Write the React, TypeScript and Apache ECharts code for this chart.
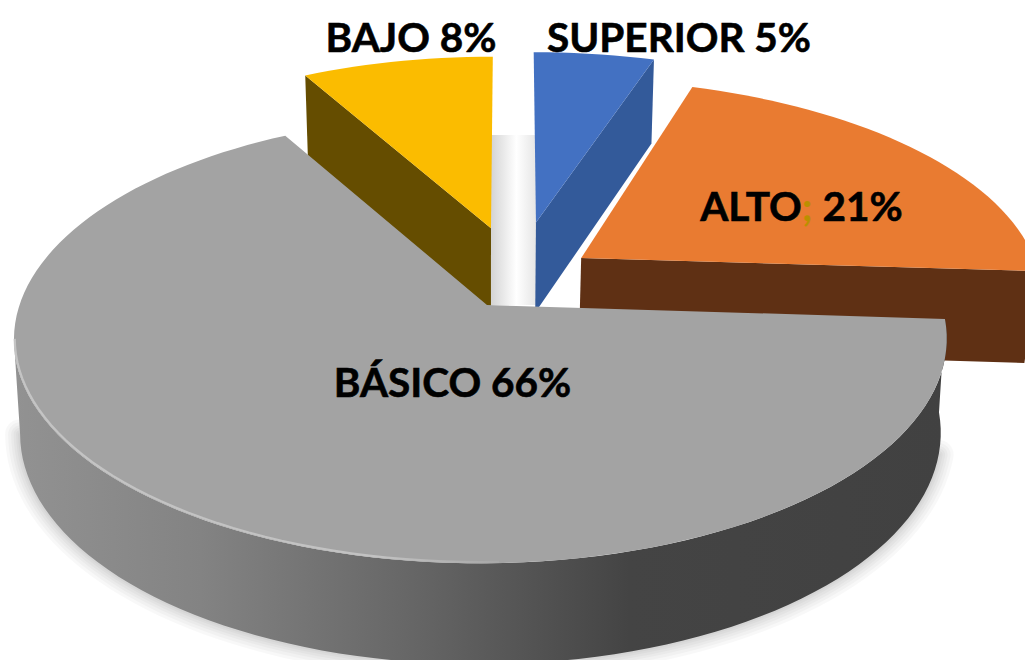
import React, { useEffect, useRef } from "react";
import * as echarts from "echarts";

// ---- data ----
const categories = ["SUPERIOR", "ALTO", "BÁSICO", "BAJO"];
const percents = [5, 21, 66, 8];
const separators = [" ", "; ", " ", " "];

// ---- style / layout ----
const topColors = ["#4371c2", "#e97b31", "#a3a3a3", "#fbbc00"];
const wallColors = ["#335a9a", "#5f3014", "#424242", "#654d00"];
// world offset of each exploded slice's apex, and of its rim against that apex
const offsetU = [0.111, 0.208, 0, 0.009];
const offsetV = [-0.4, -0.2215, 0, -0.37];
const rimShift = [0.01, 0, -0.0139, 0.006];
const rimScale = [1, 1, 0.985, 0.99];
const wallKind = ["end", "end", "outer", "start"];
const wallScale = [0.985, 0.975, 0.987, 0.985];
const drawOrder = [0, 3, 1, 2];
const labelX = [679, 801.5, 452.5, 411];
const labelY = [36, 205, 381, 36];
const CX = 487;
const CY = 305;
const RX = 468;
const RY = 219;
const P = 0.152;
const DEPTH = 93;
const FONT = "Lato";
const FONT_SIZE = 40.5;
const haloWidths = [30, 24, 18, 13, 8, 4];

const rad = (d: number) => (d * Math.PI) / 180;

function project(u: number, v: number): [number, number] {
  const k = 1 - P * v;
  return [CX + (RX * u) / k, CY + (RY * v) / k];
}
function drop(u: number, v: number, s: number): [number, number] {
  const [x, y] = project(u, v);
  return [CX + (x - CX) * s, y + DEPTH / (1 - 0.08 * v)];
}

function sliceAngles(i: number): [number, number] {
  const total = percents.reduce((a, b) => a + b, 0);
  let acc = 0;
  for (let k = 0; k < i; k++) acc += percents[k];
  return [(acc / total) * 360, ((acc + percents[i]) / total) * 360];
}

function rimUV(i: number, a: number): [number, number] {
  return [
    offsetU[i] + rimShift[i] + rimScale[i] * Math.sin(rad(a)),
    offsetV[i] - Math.cos(rad(a)),
  ];
}

function arcAngles(a0: number, a1: number): number[] {
  const n = Math.max(2, Math.ceil(Math.abs(a1 - a0) / 2));
  const out: number[] = [];
  for (let k = 0; k <= n; k++) out.push(a0 + ((a1 - a0) * k) / n);
  return out;
}

function renderSlice(params: any) {
  const i = drawOrder[params.dataIndex];
  const [a0, a1] = sliceAngles(i);
  const base = params.dataIndex * 10;
  const apexT = project(offsetU[i], offsetV[i]);
  const apexB = drop(offsetU[i], offsetV[i], wallScale[i]);
  const children: any[] = [];

  const radial = (a: number) => {
    const [u, v] = rimUV(i, a);
    children.push({
      type: "polygon",
      z2: base,
      shape: { points: [apexT, project(u, v), drop(u, v, wallScale[i]), apexB] },
      style: { fill: wallColors[i] },
    });
  };
  if (wallKind[i] === "end") radial(a1);
  if (wallKind[i] === "start") radial(a0);
  if (wallKind[i] === "outer") {
    const angs = arcAngles(a0, 261);
    const top = angs.map((a) => project(...rimUV(i, a)));
    const bottomArc = angs.map((a) => drop(...rimUV(i, a), wallScale[i]));
    // soft cast shadow on the floor
    const shadowArc = arcAngles(104, 261).map((a) => drop(...rimUV(i, a), wallScale[i]));
    haloWidths.forEach((w, h) => {
      children.push({
        type: "polyline",
        z2: base - 5 + h * 0.1,
        shape: { points: shadowArc },
        style: { fill: "none", stroke: "rgba(0,0,0,0.028)", lineWidth: w, lineCap: "round" },
      });
    });
    children.push({
      type: "polygon",
      z2: base,
      shape: { points: [...top, ...bottomArc.slice().reverse()] },
      style: {
        fill: new echarts.graphic.LinearGradient(0, 0, 1, 0, [
          { offset: 0, color: "#929292" },
          { offset: 0.2, color: "#838383" },
          { offset: 0.42, color: "#676767" },
          { offset: 0.66, color: "#444444" },
          { offset: 1, color: "#414141" },
        ]),
      },
    });
  }

  const rim = arcAngles(a0, a1).map((a) => project(...rimUV(i, a)));
  children.push({
    type: "polygon",
    z2: base + 1,
    shape: { points: [apexT, ...rim] },
    style: { fill: topColors[i] },
  });

  if (wallKind[i] === "outer") {
    const edge = arcAngles(178, 261).map((a) => {
      const [x, y] = project(...rimUV(i, a));
      return [x + 0.8, y - 1.2];
    });
    children.push({
      type: "polyline",
      z2: base + 2,
      shape: { points: edge },
      style: {
        fill: "none",
        lineWidth: 2.2,
        stroke: new echarts.graphic.LinearGradient(0, 0, 1, 0, [
          { offset: 0, color: "#c4c4c4" },
          { offset: 0.75, color: "#c2c2c2" },
          { offset: 1, color: "#a8a8a8" },
        ]),
      },
    });
  }

  const name = categories[i];
  const sep = separators[i];
  const pct = `${percents[i]}%`;
  const thick = { stroke: "#000", lineWidth: 0.6 };
  const label =
    sep === " "
      ? { text: `${name} ${pct}`, fill: "#000", ...thick }
      : {
          text: `{a|${name}}{b|${sep.trim()}}{a| ${pct}}`,
          rich: {
            a: { fill: "#000", fontFamily: FONT, fontWeight: 700, fontSize: FONT_SIZE, ...thick },
            b: { fill: "#bb8f00", fontFamily: FONT, fontWeight: 700, fontSize: FONT_SIZE },
          },
        };
  children.push({
    type: "text",
    z2: 100,
    x: labelX[i],
    y: labelY[i],
    style: {
      ...label,
      fontFamily: FONT,
      fontWeight: 700,
      fontSize: FONT_SIZE,
      align: "center",
      verticalAlign: "middle",
    },
  });

  return { type: "group", children };
}

export default function App() {
  const ref = useRef<HTMLDivElement>(null);
  useEffect(() => {
    const chart = echarts.init(ref.current!, undefined, { renderer: "svg" });
    chart.setOption({
      animation: false,
      backgroundColor: "#ffffff",
      graphic: [
        {
          type: "rect",
          z: 0,
          shape: { x: 490, y: 135, width: 48, height: 170 },
          style: {
            fill: new echarts.graphic.LinearGradient(0, 0, 1, 0, [
              { offset: 0.05, color: "#d6d6d6" },
              { offset: 0.55, color: "#ffffff" },
              { offset: 0.95, color: "#e6e6e6" },
            ]),
          },
        },
      ],
      series: [
        {
          type: "custom",
          coordinateSystem: "none",
          silent: true,
          clip: false,
          renderItem: renderSlice,
          data: drawOrder.map((i) => ({ name: categories[i], value: [percents[i]] })),
        },
      ],
    });
    return () => chart.dispose();
  }, []);
  return (
    <div
      ref={ref}
      style={{ position: "fixed", left: 0, top: 0, width: 1025, height: 660, background: "#fff" }}
    />
  );
}
